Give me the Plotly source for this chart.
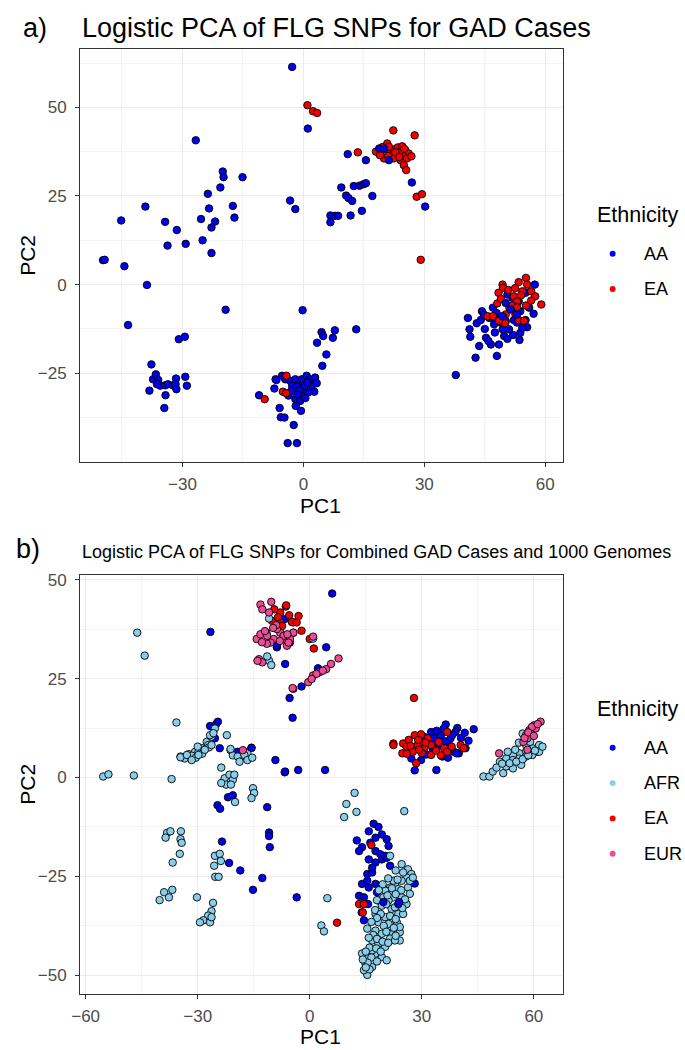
import plotly.graph_objects as go

FONT = "Liberation Sans, Arial, sans-serif"
W, H = 685, 1050

# ---------------- Panel a data (PC1, PC2) ----------------
a_aa = [(-2.8,61.4),(-26.7,40.7),(-20.0,31.9),(-19.8,30.3),(-15.1,30.3),(-20.6,27.4),(-23.7,25.6),(-23.4,21.5),
        (-17.5,22.2),(-17.1,18.9),(-39.2,22.0),(-45.2,18.1),(-34.3,17.7),(-31.4,15.4),(-25.4,18.5),(-21.9,17.8),
        (-22.8,16.1),(-25.0,12.5),(-29.2,11.5),(-33.7,11.0),(-22.8,8.9),(-3.3,23.7),(-2.0,21.3),
        (-49.7,6.9),(-49.3,7.0),(-44.4,5.2),(-38.8,-0.1),(-19.3,-7.1),(-43.5,-11.4),(-30.9,-15.4),(-29.4,-14.7),
        (-37.7,-22.5),(-37.3,-26.7),(-36.6,-25.3),(-36.0,-26.9),(-35.5,-28.5),(-34.3,-28.4),(-33.6,-28.1),(-32.4,-28.4),
        (-31.6,-26.5),(-31.7,-28.1),(-31.5,-29.5),(-29.3,-26.0),(-28.9,-28.5),(-38.2,-29.9),(-34.2,-31.2),(-34.5,-34.8),
        (-36.3,-28.1),(-11.0,-31.2),
        (-6.9,-26.7),(-7.2,-29.3),(-5.3,-25.7),(-5.9,-34.8),(-5.6,-37.4),(-4.7,-37.5),(-2.4,-39.6),(-3.9,-44.7),
        (-1.6,-44.7),(-0.6,-35.6),(-4.5,-26.7),(-3.3,-27.1),(-1.2,-27.6),(-0.4,-26.7),(0.8,-25.7),(1.6,-26.7),
        (2.9,-26.2),(2.7,-30.2),(1.2,-30.4),(0.0,-29.5),(-2.4,-29.5),(-3.7,-31.3),(-2.0,-32.3),(-0.8,-32.8),
        (-1.9,-34.2),(-2.8,-28.5),(-1.6,-28.7),(-0.4,-31.3),(0.4,-28.5),(2.1,-28.5),(-6.7,-26.9),
        (-1.0,-29.8),(1.0,-27.5),(-3.0,-30.0),(0.5,-32.0),(-1.5,-31.0),(3.3,-27.8),
        (4.7,-22.9),(5.7,-19.7),(3.4,-16.4),(4.5,-13.4),(4.9,-14.5),(7.3,-15.0),(7.8,-12.9),(13.1,-12.6),(-0.2,-7.2),
        (37.8,-25.5),(42.7,-20.6),(48.0,-20.1),(43.6,-17.3),(46.5,-16.9),(48.5,-16.9),(45.3,-15.0),(45.9,-15.9),
        (41.4,-14.7),(41.2,-12.6),(40.8,-9.4),(43.0,-10.9),(44.0,-10.0),(44.3,-7.5),(47.0,-6.5),(47.9,-8.0),
        (46.1,-9.4),(47.3,-11.2),(49.4,-12.6),(49.8,-14.5),(50.6,-15.3),(53.6,-15.6),(53.8,-13.6),(55.5,-12.0),
        (57.1,-8.2),(57.4,0.0),(55.1,-2.3),(53.4,-4.7),(51.8,-3.7),(50.6,-2.8),(50.2,-10.3),(47.7,-9.4),
        (53.0,-10.7),(54.3,-12.2),(46.5,-9.2),(48.9,-10.7),(51.0,-12.6),(52.2,-10.0),(53.8,-7.5),(55.1,-10.0),
        (45.0,-12.5),(47.5,-13.5),(52.0,-14.2),(44.8,-8.5),(56.0,-6.5),
        (1.1,44.0),(11.0,36.8),(15.5,35.1),(9.4,27.4),(12.5,27.8),(13.9,27.9),(14.9,28.3),(15.5,28.6),(10.6,25.1),
        (11.2,24.4),(12.1,23.6),(17.1,25.0),(6.7,19.5),(7.8,19.4),(8.6,19.4),(6.7,17.6),(11.7,19.5),(14.5,20.8),
        (26.9,28.8),(30.2,22.0)]
a_ea = [(-9.6,-32.3),(-4.2,-25.7),(-5.1,-30.2),(-4.3,-30.6),(29.1,7.0),
        (49.4,0.0),(49.5,-0.9),(48.4,-2.3),(53.4,0.7),(55.2,1.9),(55.5,0.0),(54.3,-1.9),(56.5,-1.9),(57.5,-3.3),
        (59.0,-5.6),(52.2,-3.3),(53.0,-4.7),(48.1,-5.3),(51.1,-6.5),(51.8,-5.9),(53.0,-6.4),(55.2,-5.9),(45.7,-8.9),
        (47.0,-8.9),(50.2,-8.4),(50.0,-10.9),(53.4,-10.0),(54.7,-10.2),(48.5,-10.2),(52.6,-8.4),
        (50.8,-1.5),(52.5,-1.0),(54.0,-3.0),(56.5,-4.5),(49.0,-4.0),
        (1.0,50.6),(2.4,48.9),(3.4,48.4),(13.5,37.3),(22.3,43.5),(27.6,42.1),(28.1,24.8),(29.4,25.5),
        (18.0,37.5),(19.2,37.9),(20.4,38.1),(20.8,39.8),(21.6,37.5),(22.4,38.1),(23.4,38.7),(24.5,39.0),(25.3,37.9),
        (26.1,37.0),(24.5,36.5),(23.2,36.1),(22.4,35.6),(24.1,35.1),(24.9,33.7),(25.5,32.3),(20.0,35.6),(19.0,36.5),
        (21.2,38.9),(23.7,37.2),(25.7,35.6),(21.0,36.3),(22.8,37.3),(23.8,36.0),(25.0,38.3),(19.6,38.8),(26.8,36.2)]
a_aa_top = [(50.2,-5.2),(51.4,-7.0),(49.4,-8.9),(53.0,-8.4),(18.8,38.4),(20.0,38.4),(21.2,35.1),(-2.0,-26.7)]

# ---------------- Panel b data (PC1, PC2) ----------------
b_aa = [(-26.6,36.8),(-6.6,28.7),(-5.4,20.1),(-4.6,15.1),(-8.8,32.9),(-9.2,4.4),(6.0,46.5),(4.4,32.9),(-8.8,33.3),
        (2.2,27.6),(-2.2,23.0),(-6.8,40.0),
        (43.9,12.2),(36.4,13.4),(39.5,12.5),(32.5,11.5),(35.1,10.7),(37.7,9.9),(38.6,6.5),(34.2,7.8),(39.9,6.1),
        (41.7,7.4),(33.3,9.9),(39.0,11.5),(37.3,8.2),(28.1,1.8),(33.9,1.9),(27.2,4.8),(29.8,4.4),(39.3,6.1),
        (31.2,5.8),(35.5,5.3),(34.0,11.8),(36.0,9.2),(38.2,10.8),(40.5,10.0),(41.5,11.3),(42.5,9.3),(33.0,7.0),
        (37.0,5.0),(30.8,10.2),(35.8,12.3),
        (-26.7,13.0),(-25.0,13.6),(-24.6,14.1),(-25.4,9.9),(-24.1,7.4),(-18.8,5.9),(-17.5,6.5),(-15.6,7.5),
        (-19.3,6.5),(-6.7,1.3),(-21.9,-5.0),(-20.6,-4.5),(-24.7,-7.0),(-24.0,-7.9),(-11.4,-7.5),(-10.9,-13.9),
        (-10.9,-14.8),(-10.7,-17.6),(-23.5,-16.2),(-21.6,-21.6),(-18.6,-23.5),(-12.7,-25.4),(-15.2,-28.4),
        (-3.5,-30.3),(-6.6,1.5),(-3.1,1.9),(4.1,1.9),
        (17.1,-11.7),(18.4,-12.5),(15.8,-13.6),(17.6,-15.2),(19.3,-14.4),(20.6,-15.6),(21.1,-17.3),(12.6,-15.9),
        (14.0,-17.6),(13.2,-18.6),(16.2,-16.5),(17.6,-18.6),(18.9,-19.4),(15.8,-20.7),(17.6,-21.5),(19.3,-20.7),
        (20.6,-20.3),(21.5,-22.3),(15.4,-24.4),(16.7,-24.0),(14.0,-26.9),(15.8,-27.8),(17.6,-26.9),(13.2,-29.9),
        (14.5,-30.3),(15.6,-32.0),(13.9,-34.1),(14.5,-36.1),(18.0,-29.0),(18.4,-31.1),(20.2,-19.8),(16.7,-22.8),
        (15.4,-26.1),(28.1,-26.8)]
b_ea = [(-6.4,43.2),(-7.9,41.7),(-4.4,39.2),(-5.3,34.1),(-7.9,39.2),(-10.1,39.6),(-6.3,43.5),(-4.8,39.3),
        (-3.5,39.2),(-2.2,37.1),(-4.4,36.6),(-7.4,38.3),(1.1,32.6),(0.0,35.0),
        (-8.5,40.5),(-5.5,41.0),(-3.0,40.8),(-9.5,42.5),
        (27.9,20.1),(22.4,8.6),(25.0,8.6),(24.8,6.1),(28.1,10.7),(29.8,10.9),(31.6,9.9),(32.5,8.2),(30.7,7.4),
        (28.9,8.2),(27.6,6.5),(40.4,8.2),(36.0,7.4),(35.1,5.6),(36.8,11.5),(32.5,5.7),(36.8,6.5),(41.2,7.4),
        (25.9,7.8),(22.4,8.2),(28.5,3.6),(26.5,9.5),(27.0,8.0),(29.0,9.5),(30.0,6.2),(31.0,8.8),(26.0,6.0),
        (29.3,7.0),(33.8,6.8),(38.0,7.8),(34.5,9.0),
        (7.3,-36.7),(16.5,-17.1),(13.2,-32.0),(14.5,-32.0),(14.2,-34.1)]
b_afr = [(-46.2,36.6),(-44.2,30.8),(-35.7,13.9),(-22.2,10.7),
         (-11.6,36.6),(-10.9,40.2),(-10.9,29.5),(-10.3,28.4),(-11.4,30.6),(0.9,35.1),
         (-34.6,5.3),(-32.4,5.9),(-30.7,6.5),(-28.9,7.4),(-27.6,9.0),(-26.3,10.3),(-25.4,12.4),(-27.2,8.2),
         (-29.8,6.5),(-31.6,5.5),(-21.2,6.9),(-20.6,5.6),(-18.4,5.3),(-16.7,6.1),(-26.7,10.7),
         (-33.5,4.8),(-30.5,5.0),(-28.8,6.0),(-27.0,7.6),(-25.8,11.2),(-30.0,7.8),
         (-55.3,0.25),(-53.9,0.8),(-47.1,0.5),(-37.0,-0.4),(-34.6,5.1),(-32.9,5.7),(-31.6,4.4),(-29.8,5.7),
         (-28.1,7.0),(-26.3,8.2),(-21.2,7.2),(-19.3,5.3),(-17.5,5.7),(-16.7,4.4),(-18.8,4.0),(-15.4,5.0),
         (-23.7,2.5),(-22.8,-0.2),(-21.5,0.7),(-20.6,-0.6),(-20.2,0.7),(-22.4,-1.8),(-23.7,-1.4),(-21.1,-1.8),
         (-20.0,-6.2),(-15.2,-2.7),(-14.9,-3.9),(-15.6,-5.2),
         (-38.2,-14.0),(-37.3,-13.6),(-34.5,-13.6),(-34.6,-15.6),(-34.3,-16.5),(-34.8,-19.3),(-36.7,-21.5),
         (-38.6,-15.2),(-25.4,-19.8),(-24.1,-19.3),(-25.6,-22.3),(-23.8,-21.1),(-25.3,-25.1),(-24.4,-25.1),
         (-36.8,-28.4),(-39.0,-29.0),(-37.7,-30.3),(-40.2,-31.0),(-30.2,-30.3),(-25.9,-31.7),(-26.3,-33.8),
         (-27.2,-34.9),(-28.5,-36.1),(-26.7,-36.6),(-29.4,-36.6),(-26.3,-35.3),
         (12.0,-3.9),(9.8,-6.7),(9.2,-10.0),(12.5,-8.7),(25.3,-8.5),(4.7,-30.5),(3.1,-37.4),(3.8,-38.9),
         (24.6,-21.9),(26.3,-23.2),(27.2,-24.4),(25.9,-25.3),(24.6,-26.1),(22.8,-26.9),(21.5,-27.8),(20.2,-28.6),
         (23.7,-28.2),(22.4,-30.3),(24.6,-30.3),(21.1,-31.1),(19.3,-32.4),(21.9,-33.2),(23.7,-34.5),(20.2,-35.3),
         (18.4,-36.6),(21.1,-37.0),(23.3,-36.6),(17.6,-38.7),(19.3,-39.5),(21.9,-39.5),(24.1,-39.1),(16.7,-41.2),
         (18.4,-42.0),(20.2,-42.8),(17.6,-44.5),(15.8,-45.4),(14.9,-47.0),(16.7,-47.9),(15.4,-49.9),(19.3,-45.4),
         (21.5,-40.7),(24.1,-41.2),(26.3,-27.8),(26.8,-29.4),(25.9,-32.0),(25.0,-34.5),(24.1,-37.8),(22.8,-41.2),
         (20.6,-46.2),(16.7,-43.7),(14.0,-44.5),(14.5,-48.7),(17.6,-34.5),(19.7,-30.3),(22.4,-26.1),(26.8,-26.1),
         (27.6,-25.3),(21.5,-19.8),(15.4,-38.2),
         (23.0,-23.5),(25.0,-24.0),(21.0,-25.5),(23.5,-25.8),(19.5,-27.0),(22.0,-28.0),(24.5,-28.5),(18.5,-28.5),
         (20.8,-29.8),(23.0,-29.5),(25.5,-30.8),(18.0,-31.0),(20.5,-32.0),(22.8,-32.8),(24.8,-33.0),(17.5,-33.5),
         (19.0,-34.5),(21.5,-35.0),(23.0,-35.8),(18.0,-35.5),(16.5,-36.5),(19.8,-37.5),(22.5,-38.0),(17.0,-39.8),
         (20.5,-39.0),(23.0,-40.0),(15.8,-40.5),(18.0,-40.8),(19.5,-41.5),(21.0,-41.8),(16.0,-43.0),(17.8,-43.2),
         (19.0,-44.0),(15.0,-44.0),(16.5,-45.5),(18.0,-46.5),(15.5,-46.8),(14.2,-46.0),(16.0,-48.5),(15.0,-48.0),
         (57.0,11.1),(61.4,8.2),(59.6,7.4),(57.9,6.5),(56.1,6.1),(54.4,5.6),(52.6,4.8),(60.9,6.5),(46.5,0.25),
         (48.1,0.25),(51.8,1.1),(50.9,4.0),(52.6,2.8),(54.4,4.4),(56.1,4.8),(57.9,5.3),(59.6,5.7),(61.4,6.5),
         (62.3,7.8),(54.4,2.3),(56.6,3.2),(49.0,1.5),(50.0,2.5),(51.5,3.5),(53.5,3.6),(55.3,4.0),(57.0,4.6),
         (58.5,5.6),(60.3,6.8),(58.0,8.0),(56.0,8.8),(55.0,7.0),(53.0,6.5),(59.0,9.0)]
b_eur = [(-13.2,43.7),(-10.3,44.4),(-12.7,42.5),(-10.9,41.7),(-14.2,35.0),(-13.2,36.2),(-11.4,35.8),(-9.6,35.0),
         (-7.9,36.6),(-6.6,35.0),(-8.8,37.5),(-10.5,34.1),(-6.1,33.3),(-4.4,36.6),(-13.6,29.9),(-12.7,29.1),
         (-14.0,29.5),(-7.0,35.8),(-5.3,35.0),(-5.7,34.1),(0.9,35.6),
         (-12.0,37.0),(-9.0,38.5),(-11.5,33.8),(-12.8,34.2),(-8.0,34.5),(-9.8,37.8),(-6.0,36.2),
         (-4.4,22.4),(-0.4,24.1),(0.9,25.8),(2.6,26.6),(4.4,27.4),(5.7,28.7),(7.7,30.1),(1.8,26.2),(3.5,27.0),
         (0.5,24.9),(-4.6,22.6),
         (-17.9,6.9),
         (61.8,14.1),(60.1,13.2),(58.8,12.0),(57.9,10.7),(59.2,11.1),(60.5,12.4),(58.3,9.9),(57.2,9.0),(58.3,7.0),
         (50.7,6.1),(59.5,12.8),(61.0,13.5),(57.5,10.0),(58.5,11.4),(60.0,10.5)]
b_aa_top = [(23.7,-32.0),(19.7,-31.5),(23.9,-31.5),(-15.6,7.5)]

COLORS = {"AA": "#0000F0", "EA": "#F40000", "AFR": "#87CEEB", "EUR": "#EC4C96"}
LEG_A = ["AA", "EA"]
LEG_B = ["AA", "AFR", "EA", "EUR"]
LEGEND_TITLE = "Ethnicity"

fig = go.Figure()


def add_pts(pts, group, xa, ya):
    fig.add_trace(go.Scatter(
        x=[p[0] for p in pts], y=[p[1] for p in pts], mode="markers", xaxis=xa, yaxis=ya,
        marker=dict(size=7.5, color=COLORS[group], line=dict(color="black", width=0.9)),
        name=group, showlegend=False, hoverinfo="skip"))


add_pts(a_aa, "AA", "x", "y")
add_pts(a_ea, "EA", "x", "y")
add_pts(a_aa_top, "AA", "x", "y")

add_pts(b_aa, "AA", "x2", "y2")
add_pts(b_ea, "EA", "x2", "y2")
add_pts(b_afr, "AFR", "x2", "y2")
add_pts(b_eur, "EUR", "x2", "y2")
add_pts(b_aa_top, "AA", "x2", "y2")

axis_common = dict(showline=True, mirror=True, linecolor="#333333", linewidth=1,
                   ticks="outside", ticklen=4, tickwidth=1, tickcolor="#333333",
                   showgrid=True, gridcolor="#EBEBEB", gridwidth=1.1, zeroline=False,
                   tickfont=dict(family=FONT, size=17, color="#4D4D4D"))


def minor(d):
    return dict(dtick=d, showgrid=True, gridcolor="#F4F4F4", gridwidth=0.6, ticks="")


def px_x(p):
    return p / W


def px_y(p):
    return 1 - p / H


fig.update_layout(
    width=W, height=H, margin=dict(l=0, r=0, t=0, b=0),
    paper_bgcolor="white", plot_bgcolor="white", showlegend=False,
    font=dict(family=FONT),
    xaxis=dict(domain=[px_x(72), px_x(561)], range=[-55.4, 64.3], tick0=0, dtick=30, anchor="y",
               ticklabelstandoff=3, minor=minor(15), **axis_common),
    yaxis=dict(domain=[px_y(459.3), px_y(45)], range=[-49.9, 66.5], tick0=0, dtick=25, anchor="x",
               ticklabelstandoff=5, minor=minor(12.5), **axis_common),
    xaxis2=dict(domain=[px_x(72), px_x(561)], range=[-61.5, 67.7], tick0=0, dtick=30, anchor="y2",
                ticklabelstandoff=3, minor=minor(15), **axis_common),
    yaxis2=dict(domain=[px_y(993.3), px_y(572.7)], range=[-54.6, 51.3], tick0=0, dtick=25, anchor="x2",
                ticklabelstandoff=5, minor=minor(12.5), **axis_common),
)


def text(t, x, y, size, xanchor="left", angle=0):
    fig.add_annotation(text=t, x=px_x(x), y=px_y(y), xref="paper", yref="paper",
                       xanchor=xanchor, yanchor="middle", showarrow=False, textangle=angle,
                       font=dict(family=FONT, size=size, color="black"))


# titles and axis titles
text("a)", 12, 24, 27)
text("Logistic PCA of FLG SNPs for GAD Cases", 72, 24, 27)
text("PC1", 316, 503, 21, "center")
text("b)", 5, 547, 27)
text("Logistic PCA of FLG SNPs for Combined GAD Cases and 1000 Genomes", 72, 550, 18)
text("PC1", 316, 1036, 21, "center")
text("PC2", 18, 252, 21, "center", -90)
text("PC2", 18, 783, 21, "center", -90)


# legends (ggplot style: title, small unoutlined dots, labels)
def legend(groups, title_y, first_y, step):
    text(LEGEND_TITLE, 594, title_y, 21.5)
    for i, g in enumerate(groups):
        yy = first_y + i * step
        r = 3.0
        fig.add_shape(type="circle", xref="paper", yref="paper",
                      x0=px_x(611.7 - r), x1=px_x(611.7 + r), y0=px_y(yy + r), y1=px_y(yy - r),
                      fillcolor=COLORS[g], line=dict(width=0))
        text(g, 641, yy, 18)


legend(LEG_A, 212, 250.7, 35.4)
legend(LEG_B, 708, 746.7, 35.4)

# no mode bar, and no default 8px page margin, so the 685x1050 figure fills the window exactly
fig.write_html("out.html", config={"displayModeBar": False},
               post_script="document.body.style.margin='0';document.body.style.overflow='hidden';")
